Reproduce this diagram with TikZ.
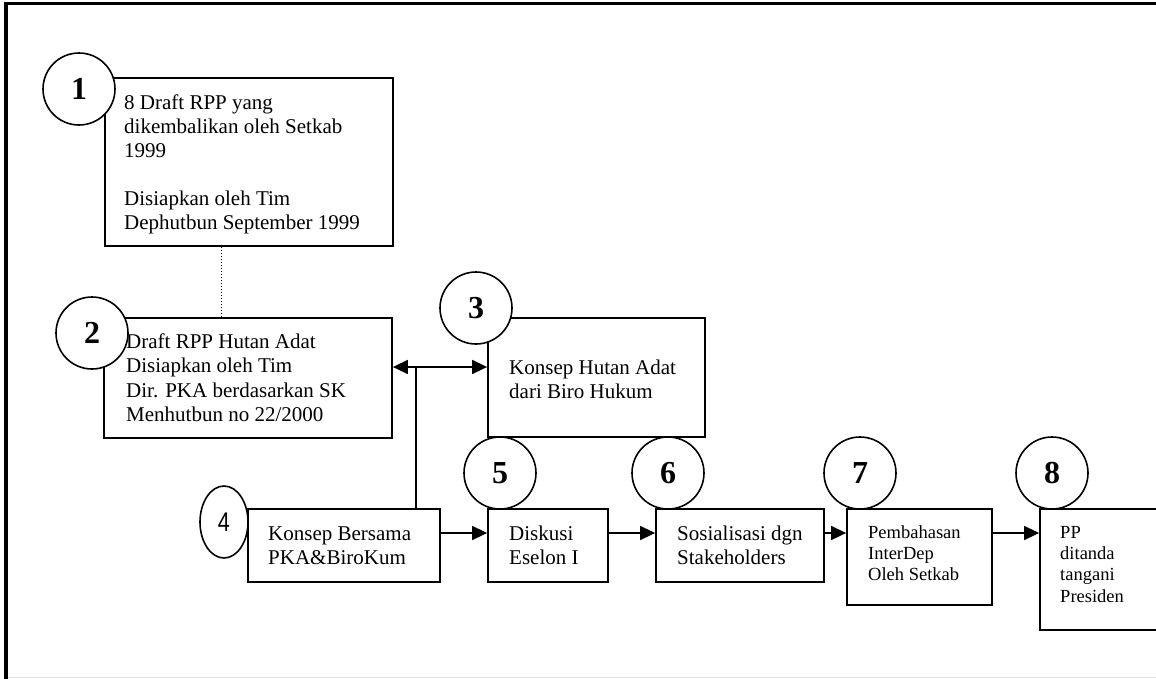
\documentclass[tikz,border=0pt]{standalone}
\usepackage{fontspec}
\setmainfont{Liberation Serif}
\newfontfamily\numsans{Liberation Sans}
\usetikzlibrary{arrows.meta,shapes.geometric}
\tikzset{
  box/.style={draw,line width=1.8pt,fill=white,inner sep=0pt,rectangle},
  num/.style={draw,circle,line width=1.6pt,fill=white,inner sep=0pt,minimum size=72pt,font=\fontsize{32}{32}\selectfont\bfseries},
  txt/.style={anchor=north west,inner sep=0pt,align=left},
  bigtxt/.style={txt,font=\fontsize{21}{24}\selectfont},
  midtxt/.style={txt,font=\fontsize{21}{24.5}\selectfont},
  smalltxt/.style={txt,font=\fontsize{18.5}{21.4}\selectfont},
  link/.style={line width=1.6pt},
  arrowline/.style={link,-{Triangle[length=15pt,width=14pt]}},
  twoarrow/.style={link,{Triangle[length=15pt,width=14pt]}-{Triangle[length=15pt,width=14pt]}},
}
\begin{document}
\begin{tikzpicture}[x=1pt,y=-1pt]
\useasboundingbox (0,0) rectangle (1156,678);
\clip (0,0) rectangle (1156,678);
% frame
\draw[line width=3pt] (4,3.5) -- (1160,3.5);
\draw[line width=4pt] (6,2) -- (6,680);
\draw[line width=1pt,gray!25] (8,677) -- (1160,677);

% boxes
\node[box,minimum width=288pt,minimum height=168pt] (b1) at (249,162) {};
\node[box,minimum width=288pt,minimum height=120pt] (b2) at (248,378) {};
\node[box,minimum width=217pt,minimum height=119pt] (b3) at (596.5,377.5) {};
\node[box,minimum width=192pt,minimum height=73pt] (b4) at (344,545.5) {};
\node[box,minimum width=120pt,minimum height=73pt] (b5) at (548,545.5) {};
\node[box,minimum width=168pt,minimum height=73pt] (b6) at (740,545.5) {};
\node[box,minimum width=145pt,minimum height=96pt] (b7) at (919.5,557) {};
\node[box,minimum width=150pt,minimum height=121pt] (b8) at (1115,569.5) {};

% texts
\node[bigtxt] (t1) at (124,92.2) {\strut 8 Draft RPP yang\\dikembalikan oleh Setkab\\1999\\[24pt]Disiapkan oleh Tim\\Dephutbun September 1999};
\node[midtxt] (t2) at (126,330.9) {\strut Draft RPP Hutan Adat\\Disiapkan oleh Tim\\Dir. PKA berdasarkan SK\\Menhutbun no 22/2000};
\node[bigtxt] (t3) at (509,357.2) {\strut Konsep Hutan Adat\\dari Biro Hukum};
\node[midtxt] (t4) at (268,522.9) {\strut Konsep Bersama\\PKA\&BiroKum};
\node[midtxt] (t5) at (509,522.9) {\strut Diskusi\\Eselon I};
\node[midtxt] (t6) at (677,522.9) {\strut Sosialisasi dgn\\Stakeholders};
\node[smalltxt] (t7) at (868,523) {\strut Pembahasan\\InterDep\\Oleh Setkab};
\node[smalltxt] (t8) at (1060,523) {\strut PP\\ditanda\\tangani\\Presiden};

% number circles
\node[num] (c1) at (79,89) {1};
\node[num] (c2) at (92,333) {2};
\node[num] (c3) at (476,308) {3};
\node[draw,ellipse,line width=1.6pt,fill=white,inner sep=0pt,minimum width=48pt,minimum height=72pt,font=\fontsize{27}{27}\numsans] (c4) at (224,522) {\scalebox{0.8}[1]{4}};
\node[num] (c5) at (500,473) {5};
\node[num] (c6) at (668,473) {6};
\node[num] (c7) at (860,473) {7};
\node[num] (c8) at (1052,473) {8};

% connectors
\draw[dotted,line width=1pt] ([xshift=117pt]b1.south west) -- ([xshift=118pt]b2.north west);
\coordinate (j) at (416,367);
\coordinate (r) at (0,533);
\draw[twoarrow] (b2.east |- j) -- (b3.west |- j);
\draw[link] (j) -- (j |- b4.north);
\draw[arrowline] (b4.east |- r) -- (b5.west |- r);
\draw[arrowline] (b5.east |- r) -- (b6.west |- r);
\draw[arrowline] (b6.east |- r) -- (b7.west |- r);
\draw[arrowline] (b7.east |- r) -- (b8.west |- r);
\end{tikzpicture}
\end{document}
